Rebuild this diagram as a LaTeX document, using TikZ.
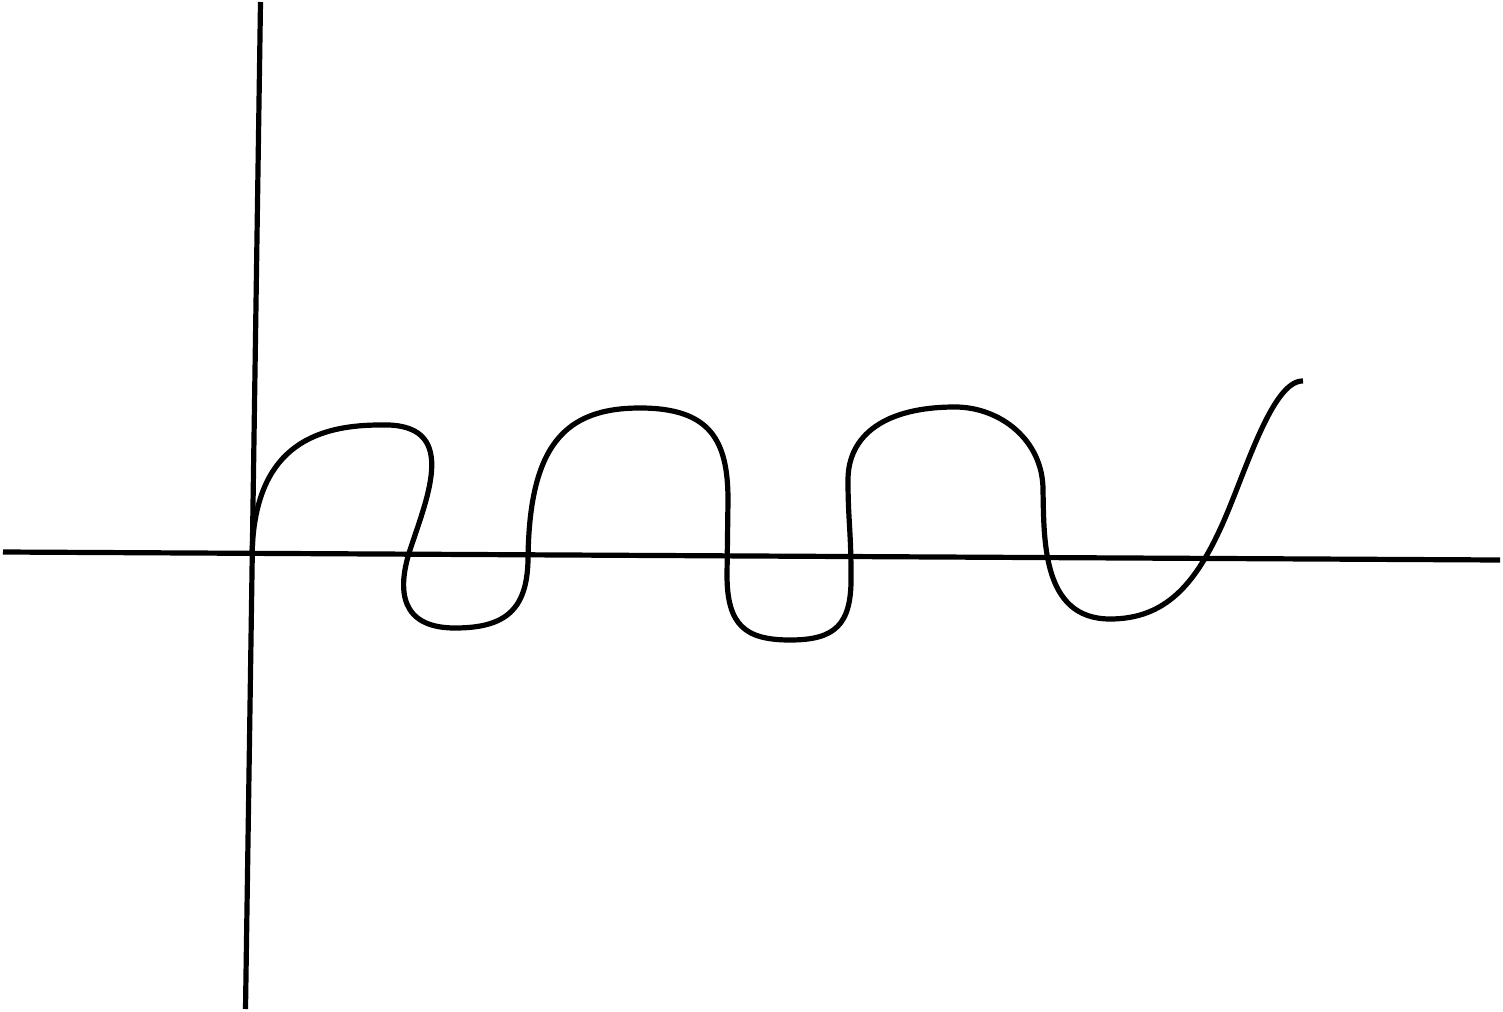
\documentclass[tikz,border=0pt]{standalone}
\begin{document}
\begin{tikzpicture}[x=1pt,y=-1pt,
  axis/.style={line width=5.2pt,black},
  wave/.style={line width=5.2pt,black,line join=round}]
\useasboundingbox (0,0) rectangle (1503,1011);
% axes
\coordinate (hl) at (3,552);
\coordinate (hr) at (1500,560);
\coordinate (vt) at (260.5,2);
\coordinate (vb) at (245.5,1009);
\draw[axis] (hl) -- (hr);
\draw[axis] (vt) -- (vb);
% curve
\draw[wave] (252,555) .. controls (254,460) and (300,425) .. (380,425)
  .. controls (460,422) and (428,495) .. (410,550)
  .. controls (397,590) and (400,628) .. (455,628)
  .. controls (505,628) and (527,610) .. (528,560)
  .. controls (529,445) and (565,408) .. (640,408)
  .. controls (710,408) and (728,440) .. (728,500)
  -- (727,575)
  .. controls (727,625) and (745,640) .. (790,640)
  .. controls (835,640) and (852,625) .. (851,575)
  .. controls (851,530) and (848,520) .. (848,480)
  .. controls (848,435) and (885,407) .. (955,407)
  .. controls (1000,407) and (1043,440) .. (1043,490)
  .. controls (1044,540) and (1042,619) .. (1110,619)
  .. controls (1165,619) and (1195,585) .. (1222,525)
  .. controls (1245,474) and (1272,380) .. (1303,381);
\end{tikzpicture}
\end{document}
